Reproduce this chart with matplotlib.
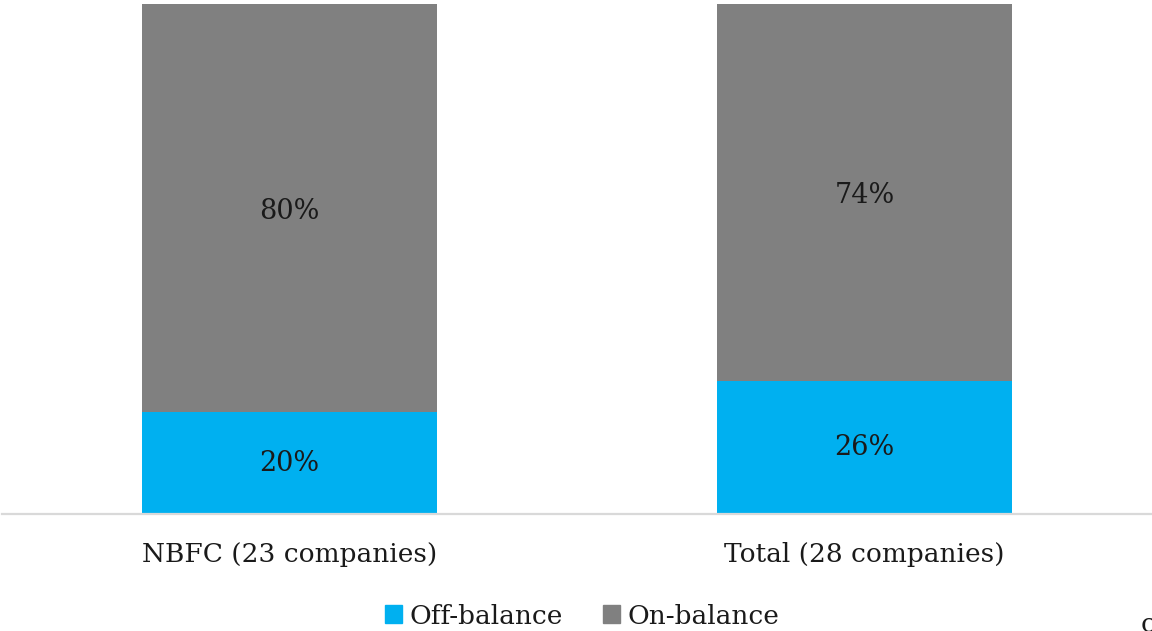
import matplotlib.pyplot as plt
from matplotlib.patches import Patch

categories = ['NBFC (23 companies)', 'Total (28 companies)']
off_balance = [20, 26]
on_balance = [80, 74]

blue = '#00B0F0'
grey = '#808080'

plt.rcParams['font.family'] = ['DejaVu Serif']

fig = plt.figure(figsize=(11.52, 6.31), dpi=100)
ax = fig.add_axes([2 / 1152, 1 - 514 / 631, 1150 / 1152, 514 / 631])

x = range(len(categories))
ax.bar(x, off_balance, width=0.513, color=blue, label='Off-balance')
ax.bar(x, on_balance, width=0.513, bottom=off_balance, color=grey, label='On-balance')

ax.set_xlim(-0.5, 1.5)
ax.set_ylim(0, 100.8)

for i in x:
    ax.text(i, off_balance[i] / 2, f'{off_balance[i]}%', ha='center', va='center', fontsize=19.5, color='#1a1a1a')
    top = ax.get_ylim()[1]
    ax.text(i, (off_balance[i] + top) / 2 - 1, f'{on_balance[i]}%', ha='center', va='center', fontsize=19.5,
            color='#1a1a1a')

for s in ['top', 'right', 'left']:
    ax.spines[s].set_visible(False)
ax.spines['bottom'].set_color('#d9d9d9')
ax.spines['bottom'].set_linewidth(1.6)
ax.set_yticks([])
ax.set_xticks(list(x))
ax.set_xticklabels(categories, fontsize=19, color='#1a1a1a')
ax.tick_params(axis='x', length=0, pad=20)

handles = [Patch(color=blue, label='Off-balance'), Patch(color=grey, label='On-balance')]
fig.legend(handles=handles, loc='center', bbox_to_anchor=(582 / 1152, 1 - 616 / 631), ncol=2, frameon=False,
           fontsize=19, handlelength=0.65, handleheight=0.65, handletextpad=0.3, columnspacing=1.5,
           labelcolor='#1a1a1a')

fig.text(1141 / 1152, 1 - 624 / 631, 'c', fontsize=19, color='#1a1a1a', va='center', ha='left')

fig.savefig('out.png', dpi=100)
